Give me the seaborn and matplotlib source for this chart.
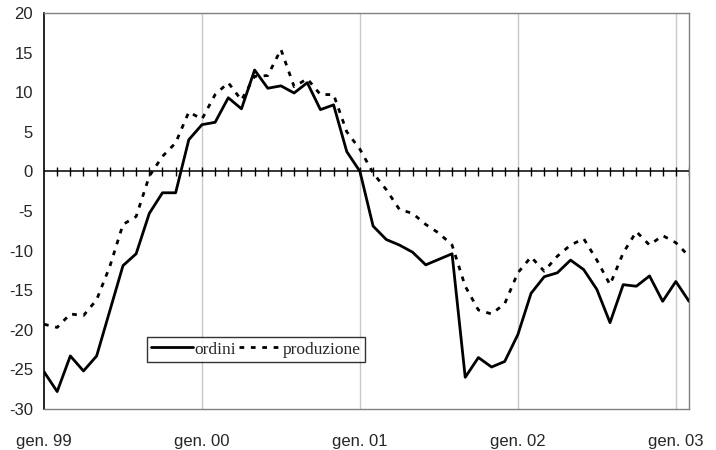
import numpy as np
import pandas as pd
import matplotlib
matplotlib.use("Agg")
import matplotlib.pyplot as plt
import seaborn as sns
from matplotlib.lines import Line2D

# monthly data, gen. 1999 - feb. 2003
ordini = [-25.3, -27.8, -23.3, -25.2, -23.3, -17.6, -11.9, -10.4, -5.3, -2.7,
          -2.7, 4.0, 5.9, 6.2, 9.3, 7.9, 12.8, 10.5, 10.8, 9.9,
          11.2, 7.8, 8.4, 2.5, 0.0, -6.9, -8.6, -9.3, -10.2, -11.8,
          -11.1, -10.4, -26.0, -23.5, -24.7, -24.0, -20.6, -15.4, -13.3, -12.8,
          -11.2, -12.4, -14.9, -19.1, -14.3, -14.5, -13.2, -16.4, -13.9, -16.4]
produzione = [-19.3, -19.7, -18.0, -18.2, -16.2, -12.0, -6.7, -5.7, -0.6, 1.9,
              3.6, 7.5, 6.6, 9.7, 11.2, 9.0, 12.0, 12.1, 15.4, 10.7,
              11.7, 9.7, 9.7, 5.0, 2.8, -0.2, -2.3, -4.8, -5.3, -6.7,
              -7.8, -9.3, -14.5, -17.5, -18.0, -16.7, -12.8, -10.8, -12.6, -10.7,
              -9.3, -8.5, -11.2, -14.3, -10.3, -7.6, -9.3, -8.1, -9.0, -10.7]
year_labels = ["gen. 99", "gen. 00", "gen. 01", "gen. 02", "gen. 03"]

months = np.arange(len(ordini))
df = pd.DataFrame({"mese": np.concatenate([months, months]),
                   "valore": ordini + produzione,
                   "serie": ["ordini"] * len(ordini) + ["produzione"] * len(produzione)})

DASH = (1.7, 2.4)

sns.set_style("white")
plt.rcParams["font.family"] = ["Liberation Sans Narrow", "Liberation Sans", "DejaVu Sans"]
plt.rcParams["axes.unicode_minus"] = False

fig = plt.figure(figsize=(7.16, 4.5), dpi=100)
ax = fig.add_axes([44 / 716, 1 - 409 / 450, 645 / 716, 396 / 450])

# yearly grid lines
for m in months[12::12]:
    ax.axvline(m, color="#c8c8c8", lw=1, zorder=0)

# zero line with monthly ticks
ax.axhline(0, color="black", lw=1.1, zorder=1)
ax.vlines(months[1:], -0.6, 0.6, color="black", lw=1, zorder=1)

sns.lineplot(data=df, x="mese", y="valore", hue="serie", style="serie",
             palette=["black", "black"],
             dashes={"ordini": "", "produzione": DASH},
             linewidth=2, ax=ax, legend=False, zorder=3)

ax.set_xlim(0, len(ordini) - 1)
ax.set_ylim(-30, 20)
ax.set_yticks(np.arange(-30, 21, 5))
ax.set_xticks(months[::12])
ax.set_xticklabels(year_labels)
ax.set_xlabel("")
ax.set_ylabel("")
ax.tick_params(axis="y", direction="out", length=4, width=1, color="black",
               labelsize=12, pad=4)
ax.tick_params(axis="x", length=0, labelsize=12, pad=18)

for side in ["top", "right", "bottom"]:
    ax.spines[side].set_color("#808080")
    ax.spines[side].set_linewidth(1)
ax.spines["left"].set_color("black")
ax.spines["left"].set_linewidth(1.2)

# legend
handles = [Line2D([], [], color="black", lw=2),
           Line2D([], [], color="black", lw=2, linestyle=(0, DASH))]
leg = ax.legend(handles, ["ordini", "produzione"], ncol=2,
                loc="lower left", bbox_to_anchor=(0.159, 0.119), borderaxespad=0,
                frameon=True, fancybox=False, edgecolor="black",
                handlelength=2.4, handletextpad=0.1, columnspacing=0.2,
                borderpad=0.25,
                prop={"family": "Liberation Serif", "size": 12.5})
leg.get_frame().set_linewidth(1)

fig.savefig("out.png", dpi=100)
